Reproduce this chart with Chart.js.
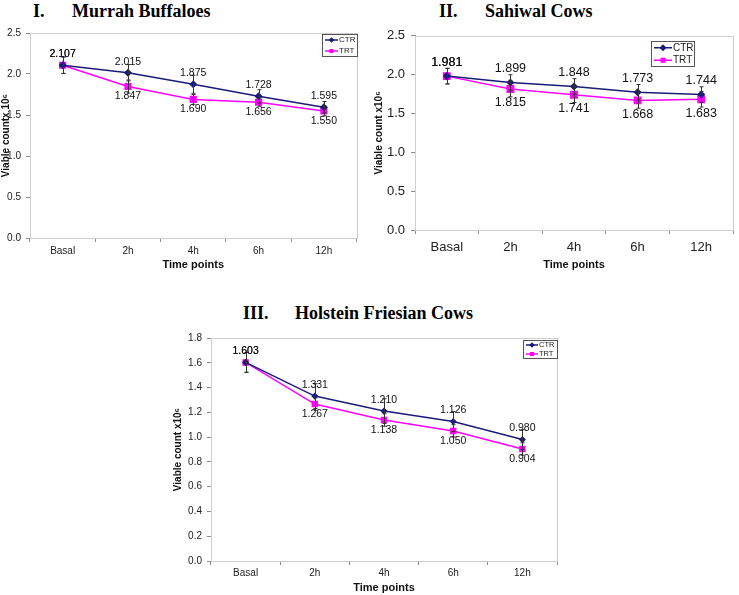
<!DOCTYPE html>
<html>
<head>
<meta charset="utf-8">
<script src="https://cdn.jsdelivr.net/npm/chart.js@4.4.0/dist/chart.umd.min.js"></script>
<style>
    body { margin: 0; background: #fff; width: 739px; height: 595px; position: relative; overflow: hidden; }
    .box { position: absolute; }
    .ttl {
        position: absolute;
        font-family: 'Liberation Serif', 'Times New Roman', serif;
        font-weight: bold;
        font-size: 18px;
        line-height: 20px;
        color: #000;
        white-space: nowrap;
    }
</style>
</head>
<body>
<div class="ttl" style="left:33px;top:1px">I.</div>
<div class="ttl" style="left:72px;top:1px">Murrah Buffaloes</div>
<div class="ttl" style="left:439px;top:1px">II.</div>
<div class="ttl" style="left:485px;top:1px">Sahiwal Cows</div>
<div class="ttl" style="left:243px;top:303px">III.</div>
<div class="ttl" style="left:295px;top:303px">Holstein Friesian Cows</div>

<div class="box" style="left:0;top:22px;width:362px;height:254px"><canvas id="murrahChart"></canvas></div>
<div class="box" style="left:370px;top:22px;width:369px;height:254px"><canvas id="sahiwalChart"></canvas></div>
<div class="box" style="left:170px;top:325px;width:395px;height:270px"><canvas id="holsteinChart"></canvas></div>

<script>
// Time points (x axis)
const timePoints = ['Basal', '2h', '4h', '6h', '12h'];

// I. Murrah Buffaloes
const murrahCTR = [2.107, 2.015, 1.875, 1.728, 1.595];
const murrahTRT = [2.107, 1.847, 1.690, 1.656, 1.550];
const murrahCTRErr = [0.10, 0.10, 0.11, 0.08, 0.07];
const murrahTRTErr = [0.10, 0.08, 0.06, 0.05, 0.06];

// II. Sahiwal Cows
const sahiwalCTR = [1.981, 1.899, 1.848, 1.773, 1.744];
const sahiwalTRT = [1.981, 1.815, 1.741, 1.668, 1.683];
const sahiwalCTRErr = [0.10, 0.10, 0.10, 0.10, 0.10];
const sahiwalTRTErr = [0.10, 0.10, 0.10, 0.10, 0.10];

// III. Holstein Friesian Cows
const holsteinCTR = [1.603, 1.331, 1.210, 1.126, 0.980];
const holsteinTRT = [1.603, 1.267, 1.138, 1.050, 0.904];
const holsteinCTRErr = [0.08, 0.10, 0.10, 0.08, 0.08];
const holsteinTRTErr = [0.08, 0.05, 0.05, 0.05, 0.05];

const NAVY = '#1b1b78';
const MAGENTA = '#ff00ff';
const SANS = "'Liberation Sans', Arial, sans-serif";
const AXIS = '#8c8c8c';

/**
 * Light frame round the plot area
 */
const areaBorder = {
    id: 'areaBorder',
    beforeDatasetsDraw(chart) {
        const { ctx, chartArea: a } = chart;
        ctx.save();
        ctx.strokeStyle = '#cfcfcf';
        ctx.lineWidth = 1;
        ctx.strokeRect(Math.round(a.left) + 0.5, Math.round(a.top) + 0.5,
            Math.round(a.right - a.left), Math.round(a.bottom - a.top));
        ctx.restore();
    }
};

/**
 * Vertical error bars from dataset.errors
 */
const errorBars = {
    id: 'errorBars',
    afterDatasetsDraw(chart) {
        const ctx = chart.ctx;
        const yScale = chart.scales.y;
        ctx.save();
        ctx.strokeStyle = '#333';
        ctx.lineWidth = 1;
        chart.data.datasets.forEach((ds, i) => {
            const meta = chart.getDatasetMeta(i);
            meta.data.forEach((pt, j) => {
                const v = ds.data[j], e = ds.errors[j];
                const x = Math.round(pt.x) + 0.5;
                const y1 = yScale.getPixelForValue(v + e);
                const y2 = yScale.getPixelForValue(v - e);
                ctx.beginPath();
                ctx.moveTo(x, y1); ctx.lineTo(x, y2);
                ctx.moveTo(x - 2, y1); ctx.lineTo(x + 2, y1);
                ctx.moveTo(x - 2, y2); ctx.lineTo(x + 2, y2);
                ctx.stroke();
            });
        });
        ctx.restore();
    }
};

/**
 * Value labels: CTR above, TRT below (basal shared above)
 */
const valueLabels = {
    id: 'valueLabels',
    afterDatasetsDraw(chart, args, o) {
        const ctx = chart.ctx;
        ctx.save();
        ctx.font = o.size + 'px ' + SANS;
        ctx.fillStyle = '#111';
        ctx.textAlign = 'center';
        ctx.textBaseline = 'middle';
        chart.data.datasets.forEach((ds, i) => {
            const meta = chart.getDatasetMeta(i);
            meta.data.forEach((pt, j) => {
                const below = i === 1 && j > 0;
                const y = below ? pt.y + o.below : pt.y - o.above;
                ctx.fillText(ds.data[j].toFixed(3), pt.x, y);
            });
        });
        ctx.restore();
    }
};

/**
 * Boxed legend inside the plot area, top right
 */
const boxLegend = {
    id: 'boxLegend',
    afterDraw(chart, args, o) {
        const { ctx, chartArea: a } = chart;
        const x = Math.round(a.right - o.right - o.width);
        const y = Math.round(a.top + o.top);
        ctx.save();
        ctx.fillStyle = '#fff';
        ctx.fillRect(x, y, o.width, o.height);
        ctx.strokeStyle = '#555';
        ctx.lineWidth = 1;
        ctx.strokeRect(x + 0.5, y + 0.5, o.width, o.height);
        ctx.font = o.size + 'px ' + SANS;
        ctx.textBaseline = 'middle';
        chart.data.datasets.forEach((ds, i) => {
            const cy = y + o.height * (i * 2 + 1) / 4 + 0.5;
            const x1 = x + o.pad, x2 = x1 + o.line;
            ctx.strokeStyle = ds.borderColor;
            ctx.lineWidth = 1.5;
            ctx.beginPath();
            ctx.moveTo(x1, cy); ctx.lineTo(x2, cy);
            ctx.stroke();
            ctx.fillStyle = ds.borderColor;
            const mx = (x1 + x2) / 2;
            if (i === 0) {
                const r = o.marker * 0.7;
                ctx.beginPath();
                ctx.moveTo(mx, cy - r); ctx.lineTo(mx + r, cy);
                ctx.lineTo(mx, cy + r); ctx.lineTo(mx - r, cy);
                ctx.closePath(); ctx.fill();
            } else {
                ctx.fillRect(mx - o.marker / 2, cy - o.marker / 2, o.marker, o.marker);
            }
            ctx.fillStyle = '#222';
            ctx.fillText(ds.label, x2 + 1, cy);
        });
        ctx.restore();
    }
};

/**
 * Build one panel
 */
function makeChart(id, s) {
    const ctx = document.getElementById(id);
    if (!ctx) return null;

    return new Chart(ctx, {
        type: 'line',
        data: {
            labels: timePoints,
            datasets: [{
                label: 'CTR',
                data: s.ctr,
                errors: s.ctrErr,
                borderColor: NAVY,
                backgroundColor: NAVY,
                borderWidth: 1.5,
                pointStyle: 'rectRot',
                pointRadius: s.ctrPoint,
                tension: 0
            }, {
                label: 'TRT',
                data: s.trt,
                errors: s.trtErr,
                borderColor: MAGENTA,
                backgroundColor: MAGENTA,
                borderWidth: 1.5,
                pointStyle: 'rect',
                pointRadius: s.trtPoint,
                tension: 0
            }]
        },
        options: {
            responsive: true,
            maintainAspectRatio: false,
            animation: false,
            layout: { padding: s.padding },
            plugins: {
                legend: { display: false },
                tooltip: { enabled: false },
                valueLabels: s.labels,
                boxLegend: s.legend
            },
            scales: {
                x: {
                    offset: true,
                    afterFit: (sc) => { sc.height = s.xHeight; },
                    border: { color: AXIS, width: 1 },
                    grid: { offset: true, drawOnChartArea: false, drawTicks: true, tickLength: 4, color: AXIS },
                    ticks: { color: '#222', padding: s.xTickPad, font: { family: SANS, size: s.tickSize } },
                    title: {
                        display: true,
                        text: 'Time points',
                        color: '#111',
                        padding: { top: 0, bottom: s.xTitlePad },
                        font: { family: SANS, size: 11, weight: 'bold' }
                    }
                },
                y: {
                    min: 0,
                    max: s.yMax,
                    afterFit: (sc) => { sc.width = s.yWidth; },
                    border: { color: AXIS, width: 1 },
                    grid: { drawOnChartArea: false, drawTicks: true, tickLength: 4, color: AXIS },
                    ticks: {
                        stepSize: s.yStep,
                        color: '#222',
                        padding: s.yTickPad,
                        font: { family: SANS, size: s.tickSize },
                        callback: (v) => v.toFixed(1)
                    },
                    title: {
                        display: true,
                        text: s.yTitle,
                        color: '#111',
                        padding: { top: s.yTitlePad, bottom: 0 },
                        font: { family: SANS, size: 10, weight: 'bold' }
                    }
                }
            }
        },
        plugins: [areaBorder, errorBars, valueLabels, boxLegend]
    });
}

makeChart('murrahChart', {
    ctr: murrahCTR, trt: murrahTRT, ctrErr: murrahCTRErr, trtErr: murrahTRTErr,
    ctrPoint: 3, trtPoint: 4,
    padding: { top: 5, right: 5, left: 0, bottom: 0 },
    yMax: 2.5, yStep: 0.5, yWidth: 30, yTickPad: 5, yTitlePad: 0,
    yTitle: 'Viable countx 10⁶',
    xHeight: 38, xTickPad: 3, xTitlePad: 4, tickSize: 10,
    labels: { size: 10.5, above: 11, below: 10 },
    legend: { right: 0, top: 1, width: 35, height: 22, size: 8, pad: 3, line: 13, marker: 4 }
});

makeChart('sahiwalChart', {
    ctr: sahiwalCTR, trt: sahiwalTRT, ctrErr: sahiwalCTRErr, trtErr: sahiwalTRTErr,
    ctrPoint: 3, trtPoint: 4.5,
    padding: { top: 6, right: 2, left: 0, bottom: 0 },
    yMax: 2.5, yStep: 0.5, yWidth: 45, yTickPad: 6, yTitlePad: 3,
    yTitle: 'Viable count x10⁶',
    xHeight: 46, xTickPad: 6, xTitlePad: 4, tickSize: 13,
    labels: { size: 12.5, above: 14, below: 14 },
    legend: { right: 39, top: 5, width: 43, height: 25, size: 10, pad: 3, line: 18, marker: 5 }
});

makeChart('holsteinChart', {
    ctr: holsteinCTR, trt: holsteinTRT, ctrErr: holsteinCTRErr, trtErr: holsteinTRTErr,
    ctrPoint: 2.5, trtPoint: 3.5,
    padding: { top: 13, right: 8, left: 0, bottom: 0 },
    yMax: 1.8, yStep: 0.2, yWidth: 41, yTickPad: 5, yTitlePad: 2,
    yTitle: 'Viable count x10⁶',
    xHeight: 34, xTickPad: 2, xTitlePad: 0, tickSize: 10,
    labels: { size: 10.5, above: 11, below: 10 },
    legend: { right: 0, top: 2, width: 34, height: 18, size: 7.5, pad: 3, line: 12, marker: 4 }
});
</script>
</body>
</html>
